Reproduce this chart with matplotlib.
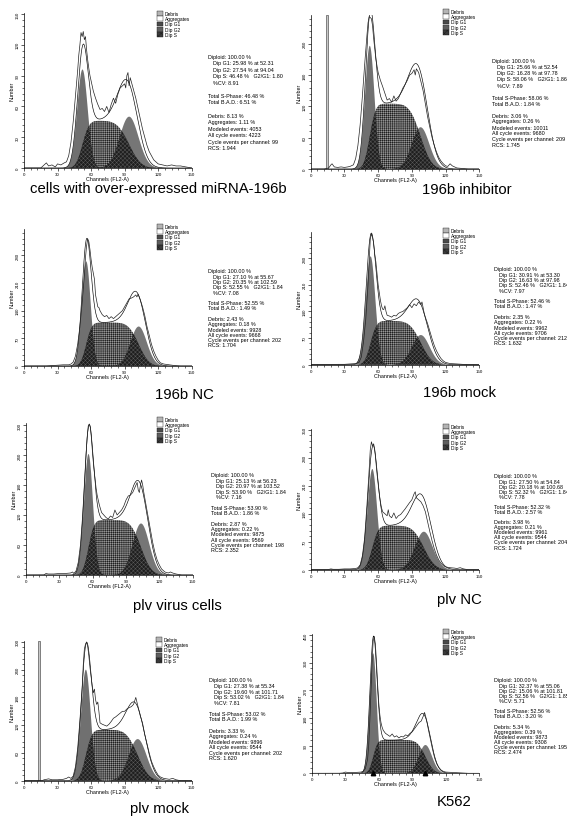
import math
import numpy as np
import matplotlib
matplotlib.use("Agg")
import matplotlib.pyplot as plt
from matplotlib.patches import Rectangle
from matplotlib.ticker import MultipleLocator

plt.rcParams['font.family'] = ['Liberation Sans', 'DejaVu Sans']
plt.rcParams['hatch.linewidth'] = 0.35

# ---- data ----
captions = ["cells with over-expressed miRNA-196b", "196b inhibitor",
            "196b NC", "196b mock",
            "plv virus cells", "plv NC",
            "plv mock", "K562"]

# ModFit results printed next to each histogram
g1_pos = [52.31, 52.54, 55.67, 53.30, 56.23, 54.84, 55.34, 55.06]
g2_pos = [94.04, 97.78, 102.59, 97.98, 103.52, 100.68, 101.71, 101.81]
g1_pct = [25.98, 25.66, 27.10, 30.91, 25.13, 27.50, 27.38, 32.37]
g2_pct = [27.54, 16.28, 20.35, 16.63, 20.97, 20.18, 19.60, 15.06]
s_pct = [46.48, 58.06, 52.55, 52.46, 53.90, 52.32, 53.02, 52.56]
g2_g1 = [1.80, 1.86, 1.84, 1.84, 1.84, 1.84, 1.84, 1.85]
cv_pct = [8.91, 7.89, 7.08, 7.97, 7.16, 7.78, 7.81, 5.71]
bad_pct = [6.51, 1.84, 1.49, 1.47, 1.86, 2.57, 1.99, 3.20]
debris_pct = [8.13, 3.06, 2.43, 2.35, 2.87, 3.98, 3.33, 5.34]
aggr_pct = [1.11, 0.26, 0.18, 0.22, 0.22, 0.21, 0.24, 0.39]
modeled_ev = [4053, 10011, 9928, 9962, 9875, 9961, 9896, 9873]
cycle_ev = [4223, 9680, 9668, 9706, 9569, 9544, 9544, 9308]
per_channel = [99, 209, 202, 212, 198, 204, 202, 195]
rcs = [1.944, 1.745, 1.704, 1.632, 2.352, 1.724, 1.620, 2.474]

# heights of the fitted components (counts)
g1_height = [96, 236, 265, 285, 242, 252, 240, 390]
g2_height = [50, 80, 100, 78, 103, 95, 90, 92]
s_height = [46, 125, 110, 115, 110, 110, 110, 108]
agg_height = [10, 45, 25, 25, 22, 30, 15, 39]

# y axis ranges and major steps
y_max = [151, 295, 347, 349, 305, 352, 302, 453]
y_step = [30, 60, 70, 70, 60, 70, 60, 90]

# debris spike channels (panels 2 and 7)
spike = {1: (13.4, 15.0), 6: (12.8, 14.3)}

# raw histograms (channel, count)
hist1_ch = [0, 15, 18, 20, 22, 25, 28, 30, 33, 36, 38, 40, 42, 44, 46, 48, 49, 50, 51, 52,
            53, 54, 55, 56, 57, 58, 59, 60, 62, 64, 66, 68, 70, 72, 74, 76, 78, 80, 82, 84,
            86, 88, 90, 91, 92, 93, 94, 95, 96, 98, 100, 102, 104, 106, 108, 110, 112, 114, 116, 118,
            120, 124, 128, 132, 136, 140, 145, 150]
hist1_n = [0, 0, 3, 5, 2, 3, 1, 4, 3, 5, 6, 12, 25, 45, 70, 95, 110, 120, 132, 128,
           133, 125, 128, 115, 105, 97, 90, 85, 75, 68, 62, 57, 58, 55, 60, 54, 62, 68, 63, 72,
           78, 80, 82, 78, 90, 93, 80, 88, 84, 76, 68, 58, 48, 38, 30, 22, 16, 12, 8, 6,
           4, 3, 2, 3, 2, 2, 1, 0]

hist2_ch = [0, 12, 16, 18, 19, 21, 24, 27, 30, 33, 35, 38, 40, 42, 44, 46, 48, 50, 51, 52,
            53, 54, 55, 56, 57, 58, 60, 62, 64, 66, 68, 70, 72, 74, 76, 78, 80, 82, 84, 86,
            88, 90, 92, 93, 94, 96, 98, 100, 102, 104, 106, 108, 110, 112, 114, 116, 118, 120, 122, 124,
            126, 130, 135, 140, 150]
hist2_n = [0, 0, 2, 8, 10, 4, 3, 4, 3, 4, 5, 8, 20, 45, 85, 140, 200, 255, 280, 292,
           290, 288, 275, 250, 230, 210, 185, 170, 158, 145, 132, 135, 128, 140, 130, 135, 145, 155, 162, 170,
           180, 183, 190, 180, 192, 185, 168, 150, 125, 100, 80, 60, 45, 32, 22, 15, 10, 6, 5, 10,
           6, 2, 1, 0, 0]

hist3_ch = [0, 20, 25, 30, 35, 40, 42, 44, 46, 48, 50, 52, 54, 55, 56, 57, 58, 59, 60, 61,
            62, 63, 64, 65, 66, 67, 68, 70, 72, 74, 76, 78, 80, 82, 84, 86, 88, 90, 92, 94,
            96, 98, 100, 101, 102, 103, 104, 106, 108, 110, 112, 114, 116, 118, 120, 122, 125, 130, 135, 140,
            150]
hist3_n = [0, 0, 1, 2, 3, 3, 5, 10, 25, 55, 100, 160, 230, 275, 305, 322, 315, 295, 270, 250,
           235, 220, 180, 165, 150, 148, 140, 130, 125, 128, 120, 125, 120, 125, 130, 135, 140, 150, 160, 170,
           172, 175, 180, 175, 182, 175, 168, 150, 128, 100, 78, 55, 38, 25, 15, 8, 5, 3, 1, 0,
           0]

hist4_ch = [0, 25, 30, 35, 40, 43, 45, 47, 49, 51, 52, 53, 54, 55, 56, 57, 58, 59, 60, 61,
            62, 63, 64, 65, 66, 67, 68, 70, 72, 74, 76, 78, 80, 82, 84, 86, 88, 90, 92, 94,
            96, 98, 99, 100, 101, 102, 104, 106, 108, 110, 112, 114, 116, 118, 120, 124, 130, 135, 140, 150]
hist4_n = [0, 1, 1, 2, 3, 6, 20, 60, 120, 210, 270, 330, 344, 335, 320, 290, 270, 240, 210, 190,
           170, 155, 146, 145, 155, 140, 130, 128, 125, 130, 128, 135, 138, 140, 145, 150, 158, 150, 160, 155,
           165, 158, 165, 150, 135, 125, 108, 88, 68, 50, 36, 25, 16, 10, 6, 3, 2, 1, 0, 0]

hist5_ch = [0, 16, 18, 20, 25, 30, 35, 40, 42, 43, 45, 47, 49, 51, 53, 54, 55, 56, 57, 58,
            59, 60, 61, 62, 63, 64, 65, 66, 68, 70, 72, 74, 76, 78, 80, 82, 84, 86, 88, 90,
            92, 94, 96, 98, 100, 101, 102, 103, 104, 105, 106, 108, 110, 112, 114, 116, 118, 120, 122, 125,
            128, 130, 132, 135, 140, 150]
hist5_n = [0, 0, 3, 2, 2, 3, 3, 4, 6, 3, 8, 25, 60, 120, 200, 240, 275, 298, 302, 295,
           270, 240, 215, 195, 175, 160, 150, 140, 125, 120, 115, 112, 118, 115, 130, 120, 125, 130, 138, 150,
           158, 160, 165, 175, 185, 170, 165, 180, 190, 180, 165, 140, 115, 90, 65, 45, 30, 20, 12, 6,
           4, 6, 4, 2, 0, 0]

hist6_ch = [0, 15, 18, 20, 25, 30, 35, 40, 42, 44, 46, 48, 50, 52, 53, 54, 55, 56, 57, 58,
            59, 60, 61, 62, 63, 64, 66, 68, 69, 70, 72, 74, 76, 78, 80, 82, 84, 86, 88, 90,
            92, 93, 94, 96, 98, 100, 102, 104, 106, 108, 110, 112, 114, 116, 118, 120, 124, 128, 130, 133,
            136, 140, 150]
hist6_n = [0, 0, 2, 1, 1, 2, 2, 3, 5, 12, 35, 80, 160, 250, 300, 320, 310, 315, 300, 270,
           240, 215, 190, 170, 155, 145, 140, 135, 150, 135, 130, 142, 128, 135, 138, 145, 152, 160, 168, 175,
           190, 195, 180, 175, 170, 160, 145, 120, 95, 72, 52, 36, 24, 16, 10, 7, 5, 4, 3, 5,
           2, 0, 0]

hist7_ch = [0, 16, 18, 20, 22, 25, 30, 35, 38, 40, 42, 44, 46, 48, 50, 52, 53, 54, 55, 56,
            57, 58, 59, 60, 61, 62, 63, 64, 65, 66, 67, 68, 70, 72, 74, 76, 78, 80, 82, 84,
            86, 88, 90, 92, 94, 96, 98, 100, 101, 102, 103, 104, 106, 108, 110, 112, 114, 116, 118, 120,
            122, 125, 130, 133, 136, 140, 150]
hist7_n = [0, 0, 2, 3, 4, 2, 2, 3, 5, 8, 5, 10, 30, 70, 130, 200, 250, 285, 295, 300,
           290, 270, 245, 225, 205, 190, 198, 175, 165, 170, 150, 125, 122, 120, 118, 122, 128, 135, 138, 142,
           146, 150, 150, 155, 158, 160, 165, 180, 170, 160, 150, 140, 125, 100, 80, 60, 42, 30, 20, 12,
           8, 5, 3, 5, 2, 0, 0]

hist8_ch = [0, 25, 28, 30, 32, 35, 40, 44, 46, 48, 50, 51, 52, 53, 54, 55, 56, 57, 58, 59,
            60, 61, 62, 63, 64, 65, 66, 68, 70, 72, 74, 76, 78, 80, 82, 84, 86, 88, 90, 92,
            94, 96, 98, 100, 101, 102, 103, 104, 106, 108, 110, 112, 114, 116, 118, 120, 125, 130, 135, 140,
            150]
hist8_n = [0, 0, 1, 4, 3, 2, 3, 4, 6, 15, 45, 90, 170, 260, 360, 430, 445, 420, 360, 290,
           230, 190, 165, 150, 140, 135, 130, 125, 120, 128, 118, 122, 115, 120, 118, 125, 122, 130, 135, 145,
           155, 165, 170, 187, 198, 185, 170, 150, 115, 80, 50, 30, 18, 10, 6, 4, 3, 2, 1, 0,
           0]

hist_ch = [hist1_ch, hist2_ch, hist3_ch, hist4_ch, hist5_ch, hist6_ch, hist7_ch, hist8_ch]
hist_n = [hist1_n, hist2_n, hist3_n, hist4_n, hist5_n, hist6_n, hist7_n, hist8_n]

legend_items = ["Debris", "Aggregates", "Dip G1", "Dip G2", "Dip S"]

# ---- layout, in pixels of the 567x820 picture ----
W, H = 567.0, 820.0
# x of channel 0, x of channel 150, y of baseline, y of top of axis
ax_px = [(24, 191.7, 169, 14), (310.7, 479.3, 170, 16),
         (24, 191.7, 367, 230), (310.7, 479.3, 365.7, 233),
         (26, 192.7, 576, 423.5), (310.7, 479.3, 570.7, 430),
         (24, 191.7, 781.7, 642), (311.7, 479.3, 774.3, 635)]
# stats block: left x, first line y, last line y
txt_px = [(208, 57, 149), (492, 62, 146), (208, 272, 346), (494, 270, 344),
          (211, 476, 551), (494, 477, 548), (209, 681, 759), (494, 681, 753)]
leg_px = [(157, 12), (443, 10), (157, 225), (443, 229),
          (157, 418), (443, 425), (156, 638), (443, 630)]
cap_px = [(30, 188.5), (422, 190), (155, 395), (423, 393),
          (133, 606), (437, 600), (130, 809), (437, 802)]

erf = np.vectorize(math.erf)


def gauss(x, mu, sd, h):
    return h * np.exp(-0.5 * ((x - mu) / sd) ** 2)


def s_phase(x, a, b, sa, sb, h):
    r2 = math.sqrt(2)
    return h * 0.5 * (1 + erf((x - a) / (sa * r2))) * 0.5 * (1 + erf((b - x) / (sb * r2)))


def fx(px):
    return px / W


def fy(py):
    return 1 - py / H


fig = plt.figure(figsize=(5.67, 8.2), dpi=100)
x = np.linspace(0, 150, 751)

for i in range(8):
    x0, x1, yb, yt = ax_px[i]
    ax = fig.add_axes([fx(x0), fy(yb), (x1 - x0) / W, (yb - yt) / H])
    ax.set_xlim(0, 150)
    ax.set_ylim(0, y_max[i])

    cv = cv_pct[i] / 100.0
    sd1 = g1_pos[i] * cv
    sd2 = g2_pos[i] * cv
    G1 = gauss(x, g1_pos[i], sd1, g1_height[i])
    G2 = gauss(x, g2_pos[i], sd2, g2_height[i])
    S = s_phase(x, g1_pos[i], g2_pos[i], sd1, sd2, s_height[i])
    AG = gauss(x, g2_pos[i] - 3, sd2 * 1.3, agg_height[i])
    total = G1 + G2 + S + AG

    ax.fill_between(x, 0, G1, facecolor='#707070', linewidth=0, zorder=2)
    ax.fill_between(x, 0, G2, facecolor='#767676', linewidth=0, zorder=2)
    ax.fill_between(x, 0, S, facecolor='#979797', edgecolor='#1c1c1c',
                    hatch='++++++++', linewidth=0, zorder=3)
    ax.fill_between(x, 0, np.minimum(S, G1), facecolor='#1e1e1e', edgecolor='#585858',
                    hatch='xxxxxxxx', linewidth=0, zorder=4)
    ax.fill_between(x, 0, np.minimum(S, G2), facecolor='#1e1e1e', edgecolor='#585858',
                    hatch='xxxxxxxx', linewidth=0, zorder=4)

    if i in spike:
        a, b = spike[i]
        ax.fill_between([a, b], 0, y_max[i], facecolor='#c8c8c8', edgecolor='#333333',
                        linewidth=0.4, zorder=5)

    ax.plot(x, total, color='#000000', lw=0.45, zorder=6)
    ax.plot(hist_ch[i], hist_n[i], color='#222222', lw=0.5, zorder=6)

    if i == 7:
        ax.plot([g1_pos[i], g2_pos[i]], [0, 0], linestyle='none', marker='^',
                markersize=3.2, color='black', clip_on=False, zorder=7)

    for side in ('top', 'right'):
        ax.spines[side].set_visible(False)
    for side in ('left', 'bottom'):
        ax.spines[side].set_linewidth(0.5)
    ax.set_xticks(range(0, 151, 30))
    ax.xaxis.set_minor_locator(MultipleLocator(6))
    ax.set_yticks(np.arange(0, y_max[i] + 1, y_step[i]))
    ax.yaxis.set_minor_locator(MultipleLocator(y_step[i] / 5))
    ax.tick_params(which='major', length=2.2, width=0.45, labelsize=3.2, pad=0.8)
    ax.tick_params(which='minor', length=1.3, width=0.4)
    ax.tick_params(axis='y', labelrotation=90)
    for lab in ax.get_yticklabels():
        lab.set_va('center')
    ax.set_xlabel('Channels (FL2-A)', fontsize=3.9, labelpad=0.0)
    ax.set_ylabel('Number', fontsize=3.9, labelpad=1.0)
    ax.patch.set_alpha(0)

    # stats block
    lines = [
        ("Diploid: 100.00 %", 0),
        (f"Dip G1: {g1_pct[i]:.2f} % at {g1_pos[i]:.2f}", 1),
        (f"Dip G2: {g2_pct[i]:.2f} % at {g2_pos[i]:.2f}", 1),
        (f"Dip S: {s_pct[i]:.2f} %   G2/G1: {g2_g1[i]:.2f}", 1),
        (f"%CV: {cv_pct[i]:.2f}", 1),
        ("", 0),
        (f"Total S-Phase: {s_pct[i]:.2f} %", 0),
        (f"Total B.A.D.: {bad_pct[i]:.2f} %", 0),
        ("", 0),
        (f"Debris: {debris_pct[i]:.2f} %", 0),
        (f"Aggregates: {aggr_pct[i]:.2f} %", 0),
        (f"Modeled events: {modeled_ev[i]}", 0),
        (f"All cycle events: {cycle_ev[i]}", 0),
        (f"Cycle events per channel: {per_channel[i]}", 0),
        (f"RCS: {rcs[i]:.3f}", 0),
    ]
    tx, ty0, ty1 = txt_px[i]
    step = (ty1 - ty0) / (len(lines) - 1)
    for k, (s, ind) in enumerate(lines):
        if s:
            fig.text(fx(tx + 5 * ind), fy(ty0 + k * step), s, fontsize=3.9,
                     va='center', ha='left')

    # legend swatches
    lx, ly = leg_px[i]
    styles = [dict(facecolor='#b4b4b4'), dict(facecolor='white'),
              dict(facecolor='#4a4a4a'), dict(facecolor='#5e5e5e'),
              dict(facecolor='#3a3a3a', hatch='xxxxxx')]
    for k, name in enumerate(legend_items):
        top = ly + k * 5.3
        r = Rectangle((fx(lx), fy(top + 4.6)), 5.6 / W, 4.6 / H, transform=fig.transFigure,
                      edgecolor='#202020', linewidth=0.3, **styles[k])
        fig.add_artist(r)
        fig.text(fx(lx + 8), fy(top + 2.3), name, fontsize=3.5, va='center', ha='left')

    cx, cy = cap_px[i]
    fig.text(fx(cx), fy(cy), captions[i], fontsize=10.7, va='center', ha='left')

fig.savefig('out.png', dpi=100)
